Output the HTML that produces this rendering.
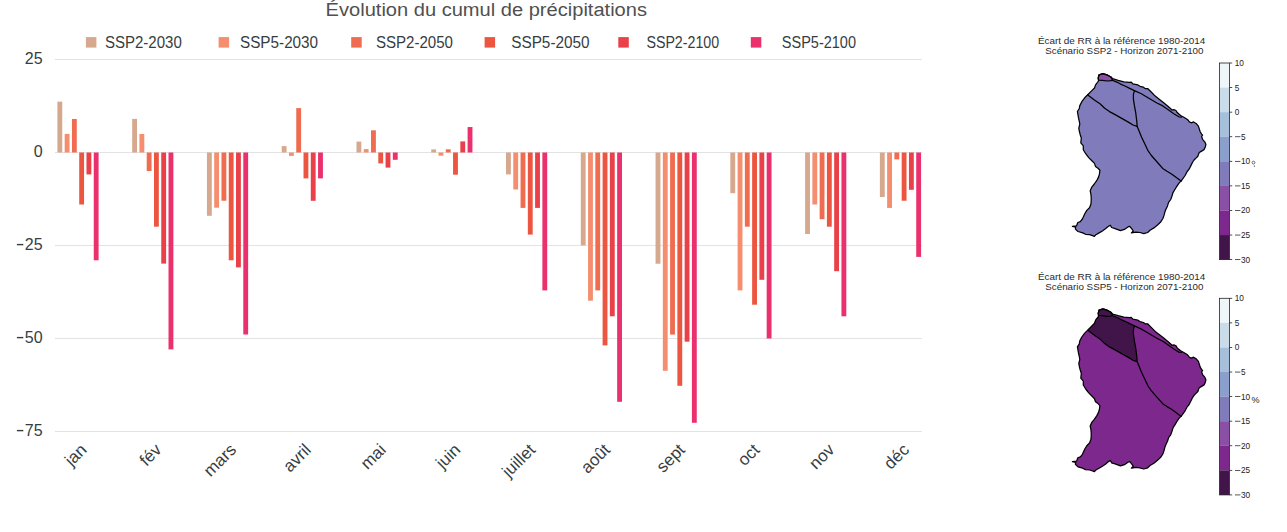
<!DOCTYPE html>
<html><head><meta charset="utf-8"><title>Évolution du cumul de précipitations</title>
<style>
html,body{margin:0;padding:0;background:#fff;}
body{width:1287px;height:532px;overflow:hidden;position:relative;font-family:"Liberation Sans", sans-serif;}
</style></head><body>
<svg width="1287" height="532" viewBox="0 0 1287 532" style="position:absolute;left:0;top:0" font-family='"Liberation Sans", sans-serif'>
<rect width="1287" height="532" fill="#fff"/>
<text x="325.6" y="15.9" font-size="18" fill="#505050" textLength="321.4" lengthAdjust="spacingAndGlyphs">Évolution du cumul de précipitations</text>
<rect x="85.9" y="37.1" width="10.5" height="10.5" fill="#d6a88e"/>
<text x="104.9" y="47.6" font-size="16" fill="#373d3f" textLength="76.9" lengthAdjust="spacingAndGlyphs">SSP2-2030</text>
<rect x="218.6" y="37.1" width="10.5" height="10.5" fill="#f48e6f"/>
<text x="240.0" y="47.6" font-size="16" fill="#373d3f" textLength="78.1" lengthAdjust="spacingAndGlyphs">SSP5-2030</text>
<rect x="351.2" y="37.1" width="10.5" height="10.5" fill="#f06c50"/>
<text x="375.9" y="47.6" font-size="16" fill="#373d3f" textLength="77.1" lengthAdjust="spacingAndGlyphs">SSP2-2050</text>
<rect x="484.6" y="37.1" width="10.5" height="10.5" fill="#ec5640"/>
<text x="511.2" y="47.6" font-size="16" fill="#373d3f" textLength="78.4" lengthAdjust="spacingAndGlyphs">SSP5-2050</text>
<rect x="618.3" y="37.1" width="10.5" height="10.5" fill="#ea4049"/>
<text x="646.4" y="47.6" font-size="16" fill="#373d3f" textLength="72.8" lengthAdjust="spacingAndGlyphs">SSP2-2100</text>
<rect x="750.8" y="37.1" width="10.5" height="10.5" fill="#eb316d"/>
<text x="781.8" y="47.6" font-size="16" fill="#373d3f" textLength="74.2" lengthAdjust="spacingAndGlyphs">SSP5-2100</text>
<rect x="55" y="59.0" width="867" height="1" fill="#e3e3e3"/>
<text x="42.6" y="63.8" font-size="16" fill="#373d3f" text-anchor="end">25</text>
<rect x="55" y="152.0" width="867" height="1" fill="#e3e3e3"/>
<text x="42.6" y="156.8" font-size="16" fill="#373d3f" text-anchor="end">0</text>
<rect x="55" y="245.0" width="867" height="1" fill="#e3e3e3"/>
<text x="42.6" y="249.8" font-size="16" fill="#373d3f" text-anchor="end">25</text>
<rect x="16.9" y="243.9" width="6.4" height="1.4" fill="#373d3f"/>
<rect x="55" y="338.0" width="867" height="1" fill="#e3e3e3"/>
<text x="42.6" y="342.8" font-size="16" fill="#373d3f" text-anchor="end">50</text>
<rect x="16.9" y="336.9" width="6.4" height="1.4" fill="#373d3f"/>
<rect x="55" y="431.0" width="867" height="1" fill="#e3e3e3"/>
<text x="42.6" y="435.8" font-size="16" fill="#373d3f" text-anchor="end">75</text>
<rect x="16.9" y="429.9" width="6.4" height="1.4" fill="#373d3f"/>
<rect x="57.40" y="101.65" width="4.85" height="50.85" fill="#d6a88e"/>
<rect x="64.67" y="133.90" width="4.85" height="18.60" fill="#f48e6f"/>
<rect x="71.94" y="118.97" width="4.85" height="33.53" fill="#f06c50"/>
<rect x="79.21" y="152.50" width="4.85" height="52.00" fill="#ec5640"/>
<rect x="86.48" y="152.50" width="4.85" height="21.90" fill="#ea4049"/>
<rect x="93.75" y="152.50" width="4.85" height="107.80" fill="#eb316d"/>
<rect x="132.17" y="118.90" width="4.85" height="33.60" fill="#d6a88e"/>
<rect x="139.44" y="134.00" width="4.85" height="18.50" fill="#f48e6f"/>
<rect x="146.71" y="152.50" width="4.85" height="18.55" fill="#f06c50"/>
<rect x="153.98" y="152.50" width="4.85" height="74.20" fill="#ec5640"/>
<rect x="161.25" y="152.50" width="4.85" height="111.10" fill="#ea4049"/>
<rect x="168.52" y="152.50" width="4.85" height="196.90" fill="#eb316d"/>
<rect x="206.94" y="152.50" width="4.85" height="63.30" fill="#d6a88e"/>
<rect x="214.21" y="152.50" width="4.85" height="55.20" fill="#f48e6f"/>
<rect x="221.48" y="152.50" width="4.85" height="48.25" fill="#f06c50"/>
<rect x="228.75" y="152.50" width="4.85" height="107.80" fill="#ec5640"/>
<rect x="236.02" y="152.50" width="4.85" height="114.90" fill="#ea4049"/>
<rect x="243.29" y="152.50" width="4.85" height="182.00" fill="#eb316d"/>
<rect x="281.71" y="146.10" width="4.85" height="6.40" fill="#d6a88e"/>
<rect x="288.98" y="152.50" width="4.85" height="3.40" fill="#f48e6f"/>
<rect x="296.25" y="108.10" width="4.85" height="44.40" fill="#f06c50"/>
<rect x="303.52" y="152.50" width="4.85" height="25.90" fill="#ec5640"/>
<rect x="310.79" y="152.50" width="4.85" height="48.30" fill="#ea4049"/>
<rect x="318.06" y="152.50" width="4.85" height="25.90" fill="#eb316d"/>
<rect x="356.48" y="141.60" width="4.85" height="10.90" fill="#d6a88e"/>
<rect x="363.75" y="149.10" width="4.85" height="3.40" fill="#f48e6f"/>
<rect x="371.02" y="130.30" width="4.85" height="22.20" fill="#f06c50"/>
<rect x="378.29" y="152.50" width="4.85" height="10.90" fill="#ec5640"/>
<rect x="385.56" y="152.50" width="4.85" height="15.10" fill="#ea4049"/>
<rect x="392.83" y="152.50" width="4.85" height="7.30" fill="#eb316d"/>
<rect x="431.25" y="149.40" width="4.85" height="3.10" fill="#d6a88e"/>
<rect x="438.52" y="152.50" width="4.85" height="3.20" fill="#f48e6f"/>
<rect x="445.79" y="149.30" width="4.85" height="3.20" fill="#f06c50"/>
<rect x="453.06" y="152.50" width="4.85" height="22.20" fill="#ec5640"/>
<rect x="460.33" y="141.40" width="4.85" height="11.10" fill="#ea4049"/>
<rect x="467.60" y="127.05" width="4.85" height="25.45" fill="#eb316d"/>
<rect x="506.02" y="152.50" width="4.85" height="21.90" fill="#d6a88e"/>
<rect x="513.29" y="152.50" width="4.85" height="37.00" fill="#f48e6f"/>
<rect x="520.56" y="152.50" width="4.85" height="55.40" fill="#f06c50"/>
<rect x="527.83" y="152.50" width="4.85" height="82.10" fill="#ec5640"/>
<rect x="535.10" y="152.50" width="4.85" height="55.40" fill="#ea4049"/>
<rect x="542.37" y="152.50" width="4.85" height="137.90" fill="#eb316d"/>
<rect x="580.79" y="152.50" width="4.85" height="92.90" fill="#d6a88e"/>
<rect x="588.06" y="152.50" width="4.85" height="148.20" fill="#f48e6f"/>
<rect x="595.33" y="152.50" width="4.85" height="137.90" fill="#f06c50"/>
<rect x="602.60" y="152.50" width="4.85" height="192.90" fill="#ec5640"/>
<rect x="609.87" y="152.50" width="4.85" height="163.80" fill="#ea4049"/>
<rect x="617.14" y="152.50" width="4.85" height="249.30" fill="#eb316d"/>
<rect x="655.56" y="152.50" width="4.85" height="111.20" fill="#d6a88e"/>
<rect x="662.83" y="152.50" width="4.85" height="218.30" fill="#f48e6f"/>
<rect x="670.10" y="152.50" width="4.85" height="182.10" fill="#f06c50"/>
<rect x="677.37" y="152.50" width="4.85" height="233.30" fill="#ec5640"/>
<rect x="684.64" y="152.50" width="4.85" height="189.15" fill="#ea4049"/>
<rect x="691.91" y="152.50" width="4.85" height="270.30" fill="#eb316d"/>
<rect x="730.33" y="152.50" width="4.85" height="40.70" fill="#d6a88e"/>
<rect x="737.60" y="152.50" width="4.85" height="137.90" fill="#f48e6f"/>
<rect x="744.87" y="152.50" width="4.85" height="74.20" fill="#f06c50"/>
<rect x="752.14" y="152.50" width="4.85" height="152.20" fill="#ec5640"/>
<rect x="759.41" y="152.50" width="4.85" height="127.30" fill="#ea4049"/>
<rect x="766.68" y="152.50" width="4.85" height="186.00" fill="#eb316d"/>
<rect x="805.10" y="152.50" width="4.85" height="81.50" fill="#d6a88e"/>
<rect x="812.37" y="152.50" width="4.85" height="52.00" fill="#f48e6f"/>
<rect x="819.64" y="152.50" width="4.85" height="66.70" fill="#f06c50"/>
<rect x="826.91" y="152.50" width="4.85" height="74.20" fill="#ec5640"/>
<rect x="834.18" y="152.50" width="4.85" height="118.70" fill="#ea4049"/>
<rect x="841.45" y="152.50" width="4.85" height="163.80" fill="#eb316d"/>
<rect x="879.87" y="152.50" width="4.85" height="44.50" fill="#d6a88e"/>
<rect x="887.14" y="152.50" width="4.85" height="55.40" fill="#f48e6f"/>
<rect x="894.41" y="152.50" width="4.85" height="6.90" fill="#f06c50"/>
<rect x="901.68" y="152.50" width="4.85" height="48.25" fill="#ec5640"/>
<rect x="908.95" y="152.50" width="4.85" height="37.30" fill="#ea4049"/>
<rect x="916.22" y="152.50" width="4.85" height="104.40" fill="#eb316d"/>
<text x="84.9" y="448" font-size="17" fill="#373d3f" text-anchor="end" transform="rotate(-45 84.9 448)" dy="4">jan</text>
<text x="159.7" y="448" font-size="17" fill="#373d3f" text-anchor="end" transform="rotate(-45 159.7 448)" dy="4">fév</text>
<text x="234.4" y="448" font-size="17" fill="#373d3f" text-anchor="end" transform="rotate(-45 234.4 448)" dy="4">mars</text>
<text x="309.2" y="448" font-size="17" fill="#373d3f" text-anchor="end" transform="rotate(-45 309.2 448)" dy="4">avril</text>
<text x="384.0" y="448" font-size="17" fill="#373d3f" text-anchor="end" transform="rotate(-45 384.0 448)" dy="4">mai</text>
<text x="458.7" y="448" font-size="17" fill="#373d3f" text-anchor="end" transform="rotate(-45 458.7 448)" dy="4">juin</text>
<text x="533.5" y="448" font-size="17" fill="#373d3f" text-anchor="end" transform="rotate(-45 533.5 448)" dy="4">juillet</text>
<text x="608.3" y="448" font-size="17" fill="#373d3f" text-anchor="end" transform="rotate(-45 608.3 448)" dy="4">août</text>
<text x="683.1" y="448" font-size="17" fill="#373d3f" text-anchor="end" transform="rotate(-45 683.1 448)" dy="4">sept</text>
<text x="757.8" y="448" font-size="17" fill="#373d3f" text-anchor="end" transform="rotate(-45 757.8 448)" dy="4">oct</text>
<text x="832.6" y="448" font-size="17" fill="#373d3f" text-anchor="end" transform="rotate(-45 832.6 448)" dy="4">nov</text>
<text x="907.4" y="448" font-size="17" fill="#373d3f" text-anchor="end" transform="rotate(-45 907.4 448)" dy="4">déc</text>
<g transform="translate(0 0)">
<text x="1038.0" y="44.3" font-size="9" fill="#2a2a2a" textLength="167.3" lengthAdjust="spacingAndGlyphs">Écart de RR à la référence 1980-2014</text>
<text x="1045.3" y="54.3" font-size="9" fill="#2a2a2a" textLength="158.2" lengthAdjust="spacingAndGlyphs">Scénario SSP2 - Horizon 2071-2100</text>
<polygon points="1098.2,78.1 1099.0,74.8 1103.0,73.6 1106.9,74.8 1110.9,77.0 1112.5,78.7 1118.2,80.4 1123.8,81.8 1129.5,82.4 1131.2,82.1 1132.8,83.8 1137.9,84.9 1140.0,86.3 1143.4,87.2 1145.1,88.5 1147.6,88.5 1151.0,91.8 1155.2,96.1 1159.5,99.5 1163.7,102.8 1167.9,106.2 1172.1,110.0 1173.8,109.6 1176.0,110.5 1177.2,112.6 1180.6,115.5 1183.8,117.2 1187.5,119.5 1189.4,121.9 1191.3,122.8 1193.6,121.9 1196.5,123.8 1198.4,126.1 1199.3,128.9 1200.2,131.8 1201.6,134.1 1202.6,135.1 1201.6,136.5 1202.6,139.3 1204.9,142.1 1205.9,144.5 1205.2,147.3 1204.0,149.6 1201.6,151.1 1199.3,152.5 1198.4,154.4 1197.9,156.2 1196.0,158.1 1194.1,160.0 1192.7,162.0 1191.5,164.4 1189.1,169.2 1187.2,171.5 1185.1,175.5 1181.1,181.1 1179.4,182.6 1177.1,185.9 1175.2,189.0 1173.1,192.3 1171.9,196.2 1170.7,199.5 1168.6,202.4 1167.5,205.9 1165.6,210.0 1164.8,212.3 1164.0,215.4 1162.9,218.5 1160.9,221.7 1157.8,224.8 1153.9,227.9 1150.0,230.2 1147.7,232.5 1143.8,233.7 1139.9,232.5 1136.0,232.1 1131.4,232.9 1133.3,231.0 1132.2,229.4 1129.8,226.3 1128.3,226.7 1124.4,229.4 1120.5,230.6 1115.1,228.6 1111.6,227.5 1110.4,225.2 1108.5,226.3 1105.7,228.6 1102.4,231.0 1099.1,232.9 1095.9,234.7 1094.4,236.4 1092.6,235.7 1089.7,234.7 1085.5,234.3 1082.7,232.9 1078.0,231.5 1075.4,229.1 1075.6,227.2 1072.4,226.3 1076.6,225.8 1077.8,222.5 1080.3,221.6 1082.4,219.0 1084.8,213.7 1086.8,210.4 1089.5,207.7 1090.9,204.3 1091.2,200.9 1091.2,197.5 1090.9,194.1 1090.2,190.8 1091.6,187.4 1094.3,184.0 1097.0,180.1 1098.5,177.1 1099.4,174.2 1099.9,170.3 1098.0,168.3 1095.5,166.4 1094.5,163.4 1092.1,161.0 1088.7,157.6 1085.7,153.7 1083.3,149.7 1083.3,145.8 1080.8,142.9 1081.3,138.0 1080.3,135.0 1079.3,131.1 1078.8,128.1 1079.8,124.2 1079.3,121.3 1078.4,117.4 1077.9,114.4 1077.4,111.5 1079.3,108.5 1079.8,105.6 1081.8,101.7 1084.7,97.8 1087.7,94.8 1091.6,90.9 1094.5,88.0 1095.6,84.9 1098.5,81.0" fill="#807bbb" stroke="none"/>
<polygon points="1098.2,78.1 1099.0,74.8 1103.0,73.6 1106.9,74.8 1110.9,77.0 1112.5,79.0 1111.4,80.7 1106.9,81.0 1102.4,80.4 1098.7,80.1" fill="#8a50a6" stroke="#000" stroke-width="1.25" stroke-linejoin="round"/>
<polyline points="1112.5,80.4 1118.2,82.7 1121.7,84.6 1125.0,86.0 1129.2,88.1 1134.4,90.6 1141.4,93.8 1145.1,96.0 1151.0,99.5 1156.9,103.0 1162.8,105.9 1167.9,109.5 1173.8,113.7 1178.9,116.8 1181.5,117.2" fill="none" stroke="#000" stroke-width="1.25" stroke-linejoin="round" stroke-linecap="round"/>
<polyline points="1087.8,95.0 1094.4,100.0 1100.0,103.8 1104.7,108.3 1109.5,111.6 1116.0,115.1 1122.6,118.9 1129.2,122.6 1133.0,125.0 1137.2,126.4" fill="none" stroke="#000" stroke-width="1.25" stroke-linejoin="round" stroke-linecap="round"/>
<polyline points="1134.4,90.8 1133.4,94.4 1133.4,99.1 1134.4,105.7 1135.8,113.2 1136.7,120.7 1137.2,126.4" fill="none" stroke="#000" stroke-width="1.25" stroke-linejoin="round" stroke-linecap="round"/>
<polyline points="1137.2,126.4 1139.5,132.0 1141.5,137.0 1144.5,143.2 1147.8,150.3 1151.0,155.0 1154.0,158.5 1158.0,163.0 1162.7,168.4 1167.0,171.3 1171.5,174.0 1176.0,177.3 1181.1,181.1" fill="none" stroke="#000" stroke-width="1.25" stroke-linejoin="round" stroke-linecap="round"/>
<polygon points="1098.2,78.1 1099.0,74.8 1103.0,73.6 1106.9,74.8 1110.9,77.0 1112.5,78.7 1118.2,80.4 1123.8,81.8 1129.5,82.4 1131.2,82.1 1132.8,83.8 1137.9,84.9 1140.0,86.3 1143.4,87.2 1145.1,88.5 1147.6,88.5 1151.0,91.8 1155.2,96.1 1159.5,99.5 1163.7,102.8 1167.9,106.2 1172.1,110.0 1173.8,109.6 1176.0,110.5 1177.2,112.6 1180.6,115.5 1183.8,117.2 1187.5,119.5 1189.4,121.9 1191.3,122.8 1193.6,121.9 1196.5,123.8 1198.4,126.1 1199.3,128.9 1200.2,131.8 1201.6,134.1 1202.6,135.1 1201.6,136.5 1202.6,139.3 1204.9,142.1 1205.9,144.5 1205.2,147.3 1204.0,149.6 1201.6,151.1 1199.3,152.5 1198.4,154.4 1197.9,156.2 1196.0,158.1 1194.1,160.0 1192.7,162.0 1191.5,164.4 1189.1,169.2 1187.2,171.5 1185.1,175.5 1181.1,181.1 1179.4,182.6 1177.1,185.9 1175.2,189.0 1173.1,192.3 1171.9,196.2 1170.7,199.5 1168.6,202.4 1167.5,205.9 1165.6,210.0 1164.8,212.3 1164.0,215.4 1162.9,218.5 1160.9,221.7 1157.8,224.8 1153.9,227.9 1150.0,230.2 1147.7,232.5 1143.8,233.7 1139.9,232.5 1136.0,232.1 1131.4,232.9 1133.3,231.0 1132.2,229.4 1129.8,226.3 1128.3,226.7 1124.4,229.4 1120.5,230.6 1115.1,228.6 1111.6,227.5 1110.4,225.2 1108.5,226.3 1105.7,228.6 1102.4,231.0 1099.1,232.9 1095.9,234.7 1094.4,236.4 1092.6,235.7 1089.7,234.7 1085.5,234.3 1082.7,232.9 1078.0,231.5 1075.4,229.1 1075.6,227.2 1072.4,226.3 1076.6,225.8 1077.8,222.5 1080.3,221.6 1082.4,219.0 1084.8,213.7 1086.8,210.4 1089.5,207.7 1090.9,204.3 1091.2,200.9 1091.2,197.5 1090.9,194.1 1090.2,190.8 1091.6,187.4 1094.3,184.0 1097.0,180.1 1098.5,177.1 1099.4,174.2 1099.9,170.3 1098.0,168.3 1095.5,166.4 1094.5,163.4 1092.1,161.0 1088.7,157.6 1085.7,153.7 1083.3,149.7 1083.3,145.8 1080.8,142.9 1081.3,138.0 1080.3,135.0 1079.3,131.1 1078.8,128.1 1079.8,124.2 1079.3,121.3 1078.4,117.4 1077.9,114.4 1077.4,111.5 1079.3,108.5 1079.8,105.6 1081.8,101.7 1084.7,97.8 1087.7,94.8 1091.6,90.9 1094.5,88.0 1095.6,84.9 1098.5,81.0" fill="none" stroke="#000" stroke-width="1.25" stroke-linejoin="round"/>
<rect x="1219.6" y="63.00" width="9.8" height="24.62" fill="#eef6f9"/>
<rect x="1219.6" y="87.58" width="9.8" height="24.62" fill="#cadcea"/>
<rect x="1219.6" y="112.15" width="9.8" height="24.62" fill="#a6c0db"/>
<rect x="1219.6" y="136.72" width="9.8" height="24.62" fill="#8a9fcc"/>
<rect x="1219.6" y="161.30" width="9.8" height="24.62" fill="#807bbb"/>
<rect x="1219.6" y="185.88" width="9.8" height="24.62" fill="#8a50a6"/>
<rect x="1219.6" y="210.45" width="9.8" height="24.62" fill="#7d288c"/>
<rect x="1219.6" y="235.03" width="9.8" height="24.62" fill="#42154a"/>
<rect x="1219.6" y="63.0" width="9.8" height="196.60" fill="none" stroke="#222" stroke-width="0.8"/>
<rect x="1229.4" y="62.60" width="2.8" height="0.8" fill="#222"/>
<text x="1234.7" y="66.00" font-size="8.2" fill="#222" textLength="9.2" lengthAdjust="spacingAndGlyphs">10</text>
<rect x="1229.4" y="87.17" width="2.8" height="0.8" fill="#222"/>
<text x="1234.7" y="90.58" font-size="8.2" fill="#222" textLength="4.6" lengthAdjust="spacingAndGlyphs">5</text>
<rect x="1229.4" y="111.75" width="2.8" height="0.8" fill="#222"/>
<text x="1234.7" y="115.15" font-size="8.2" fill="#222" textLength="4.6" lengthAdjust="spacingAndGlyphs">0</text>
<rect x="1229.4" y="136.32" width="2.8" height="0.8" fill="#222"/>
<rect x="1235.0" y="136.38" width="5.4" height="0.75" fill="#222"/>
<text x="1240.9" y="139.72" font-size="8.2" fill="#222" textLength="4.6" lengthAdjust="spacingAndGlyphs">5</text>
<rect x="1229.4" y="160.90" width="2.8" height="0.8" fill="#222"/>
<rect x="1235.0" y="160.95" width="5.4" height="0.75" fill="#222"/>
<text x="1240.9" y="164.30" font-size="8.2" fill="#222" textLength="9.2" lengthAdjust="spacingAndGlyphs">10</text>
<rect x="1229.4" y="185.47" width="2.8" height="0.8" fill="#222"/>
<rect x="1235.0" y="185.53" width="5.4" height="0.75" fill="#222"/>
<text x="1240.9" y="188.88" font-size="8.2" fill="#222" textLength="9.2" lengthAdjust="spacingAndGlyphs">15</text>
<rect x="1229.4" y="210.05" width="2.8" height="0.8" fill="#222"/>
<rect x="1235.0" y="210.10" width="5.4" height="0.75" fill="#222"/>
<text x="1240.9" y="213.45" font-size="8.2" fill="#222" textLength="9.2" lengthAdjust="spacingAndGlyphs">20</text>
<rect x="1229.4" y="234.62" width="2.8" height="0.8" fill="#222"/>
<rect x="1235.0" y="234.68" width="5.4" height="0.75" fill="#222"/>
<text x="1240.9" y="238.03" font-size="8.2" fill="#222" textLength="9.2" lengthAdjust="spacingAndGlyphs">25</text>
<rect x="1229.4" y="259.20" width="2.8" height="0.8" fill="#222"/>
<rect x="1235.0" y="259.25" width="5.4" height="0.75" fill="#222"/>
<text x="1240.9" y="262.60" font-size="8.2" fill="#222" textLength="9.2" lengthAdjust="spacingAndGlyphs">30</text>
</g>
<g transform="translate(0 235.3)">
<text x="1038.0" y="44.3" font-size="9" fill="#2a2a2a" textLength="167.3" lengthAdjust="spacingAndGlyphs">Écart de RR à la référence 1980-2014</text>
<text x="1045.3" y="54.3" font-size="9" fill="#2a2a2a" textLength="158.2" lengthAdjust="spacingAndGlyphs">Scénario SSP5 - Horizon 2071-2100</text>
<polygon points="1098.2,78.1 1099.0,74.8 1103.0,73.6 1106.9,74.8 1110.9,77.0 1112.5,78.7 1118.2,80.4 1123.8,81.8 1129.5,82.4 1131.2,82.1 1132.8,83.8 1137.9,84.9 1140.0,86.3 1143.4,87.2 1145.1,88.5 1147.6,88.5 1151.0,91.8 1155.2,96.1 1159.5,99.5 1163.7,102.8 1167.9,106.2 1172.1,110.0 1173.8,109.6 1176.0,110.5 1177.2,112.6 1180.6,115.5 1183.8,117.2 1187.5,119.5 1189.4,121.9 1191.3,122.8 1193.6,121.9 1196.5,123.8 1198.4,126.1 1199.3,128.9 1200.2,131.8 1201.6,134.1 1202.6,135.1 1201.6,136.5 1202.6,139.3 1204.9,142.1 1205.9,144.5 1205.2,147.3 1204.0,149.6 1201.6,151.1 1199.3,152.5 1198.4,154.4 1197.9,156.2 1196.0,158.1 1194.1,160.0 1192.7,162.0 1191.5,164.4 1189.1,169.2 1187.2,171.5 1185.1,175.5 1181.1,181.1 1179.4,182.6 1177.1,185.9 1175.2,189.0 1173.1,192.3 1171.9,196.2 1170.7,199.5 1168.6,202.4 1167.5,205.9 1165.6,210.0 1164.8,212.3 1164.0,215.4 1162.9,218.5 1160.9,221.7 1157.8,224.8 1153.9,227.9 1150.0,230.2 1147.7,232.5 1143.8,233.7 1139.9,232.5 1136.0,232.1 1131.4,232.9 1133.3,231.0 1132.2,229.4 1129.8,226.3 1128.3,226.7 1124.4,229.4 1120.5,230.6 1115.1,228.6 1111.6,227.5 1110.4,225.2 1108.5,226.3 1105.7,228.6 1102.4,231.0 1099.1,232.9 1095.9,234.7 1094.4,236.4 1092.6,235.7 1089.7,234.7 1085.5,234.3 1082.7,232.9 1078.0,231.5 1075.4,229.1 1075.6,227.2 1072.4,226.3 1076.6,225.8 1077.8,222.5 1080.3,221.6 1082.4,219.0 1084.8,213.7 1086.8,210.4 1089.5,207.7 1090.9,204.3 1091.2,200.9 1091.2,197.5 1090.9,194.1 1090.2,190.8 1091.6,187.4 1094.3,184.0 1097.0,180.1 1098.5,177.1 1099.4,174.2 1099.9,170.3 1098.0,168.3 1095.5,166.4 1094.5,163.4 1092.1,161.0 1088.7,157.6 1085.7,153.7 1083.3,149.7 1083.3,145.8 1080.8,142.9 1081.3,138.0 1080.3,135.0 1079.3,131.1 1078.8,128.1 1079.8,124.2 1079.3,121.3 1078.4,117.4 1077.9,114.4 1077.4,111.5 1079.3,108.5 1079.8,105.6 1081.8,101.7 1084.7,97.8 1087.7,94.8 1091.6,90.9 1094.5,88.0 1095.6,84.9 1098.5,81.0" fill="#7d288c" stroke="none"/>
<polygon points="1087.8,95.0 1091.6,90.9 1094.5,88.0 1095.6,84.9 1098.5,81.0 1098.7,80.1 1102.4,80.4 1106.9,81.0 1111.4,80.7 1112.5,80.4 1118.2,82.7 1121.7,84.6 1125.0,86.0 1129.2,88.1 1134.4,90.6 1133.4,94.4 1133.4,99.1 1134.4,105.7 1135.8,113.2 1136.7,120.7 1137.2,126.4 1133.0,125.0 1129.2,122.6 1122.6,118.9 1116.0,115.1 1109.5,111.6 1104.7,108.3 1100.0,103.8 1094.4,100.0 1087.8,95.0" fill="#42154a" stroke="none"/>
<polygon points="1098.2,78.1 1099.0,74.8 1103.0,73.6 1106.9,74.8 1110.9,77.0 1112.5,79.0 1111.4,80.7 1106.9,81.0 1102.4,80.4 1098.7,80.1" fill="#42154a" stroke="#000" stroke-width="1.25" stroke-linejoin="round"/>
<polyline points="1112.5,80.4 1118.2,82.7 1121.7,84.6 1125.0,86.0 1129.2,88.1 1134.4,90.6 1141.4,93.8 1145.1,96.0 1151.0,99.5 1156.9,103.0 1162.8,105.9 1167.9,109.5 1173.8,113.7 1178.9,116.8 1181.5,117.2" fill="none" stroke="#000" stroke-width="1.25" stroke-linejoin="round" stroke-linecap="round"/>
<polyline points="1087.8,95.0 1094.4,100.0 1100.0,103.8 1104.7,108.3 1109.5,111.6 1116.0,115.1 1122.6,118.9 1129.2,122.6 1133.0,125.0 1137.2,126.4" fill="none" stroke="#000" stroke-width="1.25" stroke-linejoin="round" stroke-linecap="round"/>
<polyline points="1134.4,90.8 1133.4,94.4 1133.4,99.1 1134.4,105.7 1135.8,113.2 1136.7,120.7 1137.2,126.4" fill="none" stroke="#000" stroke-width="1.25" stroke-linejoin="round" stroke-linecap="round"/>
<polyline points="1137.2,126.4 1139.5,132.0 1141.5,137.0 1144.5,143.2 1147.8,150.3 1151.0,155.0 1154.0,158.5 1158.0,163.0 1162.7,168.4 1167.0,171.3 1171.5,174.0 1176.0,177.3 1181.1,181.1" fill="none" stroke="#000" stroke-width="1.25" stroke-linejoin="round" stroke-linecap="round"/>
<polygon points="1098.2,78.1 1099.0,74.8 1103.0,73.6 1106.9,74.8 1110.9,77.0 1112.5,78.7 1118.2,80.4 1123.8,81.8 1129.5,82.4 1131.2,82.1 1132.8,83.8 1137.9,84.9 1140.0,86.3 1143.4,87.2 1145.1,88.5 1147.6,88.5 1151.0,91.8 1155.2,96.1 1159.5,99.5 1163.7,102.8 1167.9,106.2 1172.1,110.0 1173.8,109.6 1176.0,110.5 1177.2,112.6 1180.6,115.5 1183.8,117.2 1187.5,119.5 1189.4,121.9 1191.3,122.8 1193.6,121.9 1196.5,123.8 1198.4,126.1 1199.3,128.9 1200.2,131.8 1201.6,134.1 1202.6,135.1 1201.6,136.5 1202.6,139.3 1204.9,142.1 1205.9,144.5 1205.2,147.3 1204.0,149.6 1201.6,151.1 1199.3,152.5 1198.4,154.4 1197.9,156.2 1196.0,158.1 1194.1,160.0 1192.7,162.0 1191.5,164.4 1189.1,169.2 1187.2,171.5 1185.1,175.5 1181.1,181.1 1179.4,182.6 1177.1,185.9 1175.2,189.0 1173.1,192.3 1171.9,196.2 1170.7,199.5 1168.6,202.4 1167.5,205.9 1165.6,210.0 1164.8,212.3 1164.0,215.4 1162.9,218.5 1160.9,221.7 1157.8,224.8 1153.9,227.9 1150.0,230.2 1147.7,232.5 1143.8,233.7 1139.9,232.5 1136.0,232.1 1131.4,232.9 1133.3,231.0 1132.2,229.4 1129.8,226.3 1128.3,226.7 1124.4,229.4 1120.5,230.6 1115.1,228.6 1111.6,227.5 1110.4,225.2 1108.5,226.3 1105.7,228.6 1102.4,231.0 1099.1,232.9 1095.9,234.7 1094.4,236.4 1092.6,235.7 1089.7,234.7 1085.5,234.3 1082.7,232.9 1078.0,231.5 1075.4,229.1 1075.6,227.2 1072.4,226.3 1076.6,225.8 1077.8,222.5 1080.3,221.6 1082.4,219.0 1084.8,213.7 1086.8,210.4 1089.5,207.7 1090.9,204.3 1091.2,200.9 1091.2,197.5 1090.9,194.1 1090.2,190.8 1091.6,187.4 1094.3,184.0 1097.0,180.1 1098.5,177.1 1099.4,174.2 1099.9,170.3 1098.0,168.3 1095.5,166.4 1094.5,163.4 1092.1,161.0 1088.7,157.6 1085.7,153.7 1083.3,149.7 1083.3,145.8 1080.8,142.9 1081.3,138.0 1080.3,135.0 1079.3,131.1 1078.8,128.1 1079.8,124.2 1079.3,121.3 1078.4,117.4 1077.9,114.4 1077.4,111.5 1079.3,108.5 1079.8,105.6 1081.8,101.7 1084.7,97.8 1087.7,94.8 1091.6,90.9 1094.5,88.0 1095.6,84.9 1098.5,81.0" fill="none" stroke="#000" stroke-width="1.25" stroke-linejoin="round"/>
<rect x="1219.6" y="63.00" width="9.8" height="24.62" fill="#eef6f9"/>
<rect x="1219.6" y="87.58" width="9.8" height="24.62" fill="#cadcea"/>
<rect x="1219.6" y="112.15" width="9.8" height="24.62" fill="#a6c0db"/>
<rect x="1219.6" y="136.72" width="9.8" height="24.62" fill="#8a9fcc"/>
<rect x="1219.6" y="161.30" width="9.8" height="24.62" fill="#807bbb"/>
<rect x="1219.6" y="185.88" width="9.8" height="24.62" fill="#8a50a6"/>
<rect x="1219.6" y="210.45" width="9.8" height="24.62" fill="#7d288c"/>
<rect x="1219.6" y="235.03" width="9.8" height="24.62" fill="#42154a"/>
<rect x="1219.6" y="63.0" width="9.8" height="196.60" fill="none" stroke="#222" stroke-width="0.8"/>
<rect x="1229.4" y="62.60" width="2.8" height="0.8" fill="#222"/>
<text x="1234.7" y="66.00" font-size="8.2" fill="#222" textLength="9.2" lengthAdjust="spacingAndGlyphs">10</text>
<rect x="1229.4" y="87.17" width="2.8" height="0.8" fill="#222"/>
<text x="1234.7" y="90.58" font-size="8.2" fill="#222" textLength="4.6" lengthAdjust="spacingAndGlyphs">5</text>
<rect x="1229.4" y="111.75" width="2.8" height="0.8" fill="#222"/>
<text x="1234.7" y="115.15" font-size="8.2" fill="#222" textLength="4.6" lengthAdjust="spacingAndGlyphs">0</text>
<rect x="1229.4" y="136.32" width="2.8" height="0.8" fill="#222"/>
<rect x="1235.0" y="136.38" width="5.4" height="0.75" fill="#222"/>
<text x="1240.9" y="139.72" font-size="8.2" fill="#222" textLength="4.6" lengthAdjust="spacingAndGlyphs">5</text>
<rect x="1229.4" y="160.90" width="2.8" height="0.8" fill="#222"/>
<rect x="1235.0" y="160.95" width="5.4" height="0.75" fill="#222"/>
<text x="1240.9" y="164.30" font-size="8.2" fill="#222" textLength="9.2" lengthAdjust="spacingAndGlyphs">10</text>
<rect x="1229.4" y="185.47" width="2.8" height="0.8" fill="#222"/>
<rect x="1235.0" y="185.53" width="5.4" height="0.75" fill="#222"/>
<text x="1240.9" y="188.88" font-size="8.2" fill="#222" textLength="9.2" lengthAdjust="spacingAndGlyphs">15</text>
<rect x="1229.4" y="210.05" width="2.8" height="0.8" fill="#222"/>
<rect x="1235.0" y="210.10" width="5.4" height="0.75" fill="#222"/>
<text x="1240.9" y="213.45" font-size="8.2" fill="#222" textLength="9.2" lengthAdjust="spacingAndGlyphs">20</text>
<rect x="1229.4" y="234.62" width="2.8" height="0.8" fill="#222"/>
<rect x="1235.0" y="234.68" width="5.4" height="0.75" fill="#222"/>
<text x="1240.9" y="238.03" font-size="8.2" fill="#222" textLength="9.2" lengthAdjust="spacingAndGlyphs">25</text>
<rect x="1229.4" y="259.20" width="2.8" height="0.8" fill="#222"/>
<rect x="1235.0" y="259.25" width="5.4" height="0.75" fill="#222"/>
<text x="1240.9" y="262.60" font-size="8.2" fill="#222" textLength="9.2" lengthAdjust="spacingAndGlyphs">30</text>
</g>
<text x="1251.6" y="402.6" font-size="9" fill="#222">%</text>
<circle cx="1253.5" cy="162.6" r="1.4" fill="none" stroke="#666" stroke-width="1"/>
<rect x="1253.9" y="165.4" width="1" height="1.6" fill="#777"/>
</svg>
</body></html>
